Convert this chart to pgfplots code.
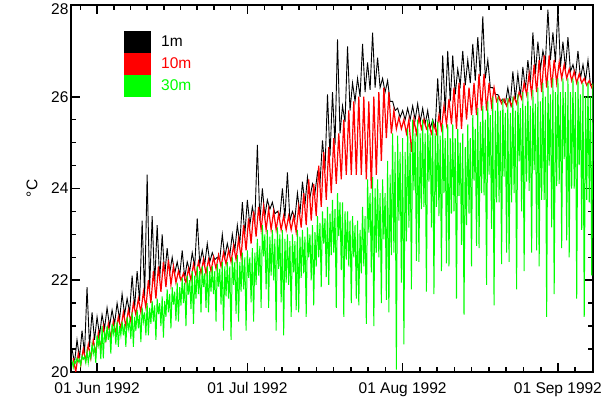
\documentclass[border=0pt]{standalone}
\usepackage{pgfplots}
\usepackage{pgfplotstable}
\pgfplotsset{compat=1.18}
\usepackage{fontspec}
\setmainfont{Liberation Sans}
\definecolor{igreen}{RGB}{0,255,0}
\definecolor{ired}{RGB}{255,0,0}

% 1m: daily peak / trough, sampled every 0.5 day from day -5 (day 0 = 01 Jun 1992)
\pgfplotstableread[header=false,row sep=\\]{
20.5\\20.2\\20.7\\20.3\\20.9\\20.4\\21.85\\20.55\\21.3\\20.7\\
21.2\\20.8\\21.25\\20.95\\21.4\\21.0\\21.35\\21.05\\21.5\\21.15\\
21.7\\21.25\\21.6\\21.3\\22.1\\21.4\\22.2\\21.55\\23.3\\21.65\\
24.3\\21.8\\23.4\\21.9\\23.2\\22.0\\23.0\\22.1\\22.7\\22.15\\
22.5\\22.15\\22.4\\22.1\\22.65\\22.05\\22.4\\22.2\\22.6\\22.3\\
23.35\\22.35\\22.65\\22.35\\22.8\\22.4\\22.6\\22.45\\22.5\\22.45\\
23.0\\22.5\\22.8\\22.55\\23.0\\22.65\\23.2\\22.8\\23.7\\23.0\\
23.75\\23.2\\23.6\\23.3\\24.95\\23.3\\24.0\\23.4\\23.75\\23.55\\
23.7\\23.45\\23.5\\23.4\\24.0\\23.35\\24.35\\23.3\\23.5\\23.35\\
23.9\\23.45\\24.15\\23.65\\24.25\\23.8\\24.1\\23.9\\24.35\\24.1\\
25.05\\24.4\\26.05\\24.7\\26.1\\24.95\\27.25\\25.2\\25.8\\25.45\\
27.1\\25.7\\26.3\\25.9\\26.4\\26.0\\27.15\\26.1\\26.75\\26.15\\
27.4\\26.2\\26.85\\26.2\\26.4\\26.1\\26.35\\25.9\\25.9\\25.7\\
25.75\\25.55\\25.7\\25.5\\25.75\\25.5\\25.8\\25.5\\25.85\\25.45\\
25.75\\25.4\\25.7\\25.3\\25.5\\25.3\\26.4\\25.45\\26.9\\25.65\\
27.0\\25.9\\26.9\\26.05\\26.6\\26.25\\27.0\\26.25\\26.8\\26.3\\
27.15\\26.35\\27.3\\26.45\\27.75\\26.4\\26.8\\26.2\\26.2\\26.05\\
26.05\\25.9\\25.95\\25.85\\26.2\\25.85\\26.55\\25.95\\26.5\\26.0\\
26.65\\26.15\\26.8\\26.3\\27.4\\26.5\\27.2\\26.6\\27.0\\26.75\\
27.9\\26.8\\27.4\\26.75\\27.95\\26.65\\27.2\\26.6\\27.3\\26.55\\
26.7\\26.45\\27.0\\26.4\\26.7\\26.35\\26.8\\26.25\\26.3\\26.2\\
}\tblack

% 10m: high / low, every 0.5 day
\pgfplotstableread[header=false,row sep=\\]{
20.3\\20.0\\20.4\\20.15\\20.5\\20.25\\20.6\\20.3\\20.7\\20.4\\
20.85\\20.5\\21.0\\20.7\\21.05\\20.75\\21.1\\20.85\\21.2\\20.95\\
21.3\\21.0\\21.35\\21.1\\21.5\\21.25\\21.6\\21.3\\21.75\\21.4\\
22.0\\21.5\\22.2\\21.6\\22.3\\21.75\\22.4\\21.85\\22.45\\21.9\\
22.3\\21.95\\22.2\\22.0\\22.15\\21.95\\22.25\\22.0\\22.35\\22.1\\
22.4\\22.15\\22.45\\22.15\\22.45\\22.2\\22.5\\22.25\\22.55\\22.3\\
22.6\\22.35\\22.65\\22.4\\22.75\\22.45\\22.9\\22.5\\23.2\\22.65\\
23.35\\22.8\\23.5\\22.95\\23.6\\23.1\\23.6\\23.1\\23.55\\23.1\\
23.5\\23.1\\23.45\\23.1\\23.4\\23.1\\23.4\\23.1\\23.4\\23.05\\
23.6\\23.15\\23.9\\23.2\\24.2\\23.3\\24.1\\23.4\\24.5\\23.6\\
24.8\\23.75\\24.9\\23.9\\25.1\\24.1\\25.2\\24.2\\25.5\\24.3\\
25.7\\24.3\\25.9\\24.3\\26.0\\24.3\\26.0\\24.2\\25.9\\24.0\\
26.0\\24.3\\26.1\\24.6\\26.2\\25.1\\26.1\\25.2\\25.7\\25.3\\
25.55\\25.3\\25.5\\25.2\\25.5\\24.8\\25.5\\25.2\\25.55\\25.3\\
25.5\\25.3\\25.4\\25.2\\25.4\\25.2\\25.6\\25.3\\25.8\\25.4\\
25.95\\25.4\\26.2\\25.3\\26.3\\25.3\\26.3\\25.5\\26.2\\25.6\\
26.3\\25.6\\26.5\\25.7\\26.5\\25.7\\26.3\\25.8\\26.2\\25.9\\
26.0\\25.85\\25.95\\25.8\\25.95\\25.8\\26.0\\25.85\\26.1\\25.95\\
26.3\\26.05\\26.5\\26.05\\26.7\\26.1\\26.8\\26.1\\26.9\\26.2\\
26.9\\26.2\\26.8\\26.3\\26.75\\26.4\\26.7\\26.4\\26.6\\26.35\\
26.55\\26.3\\26.5\\26.3\\26.4\\26.25\\26.35\\26.2\\26.3\\26.15\\
}\tred

% 30m: four samples a day
\pgfplotstableread[header=false,row sep=\\]{
20.25\\20.1\\20.24\\20.19\\ 20.3\\20.22\\20.28\\20.15\\ 20.35\\20.28\\20.33\\20.2\\
20.45\\20.2\\20.42\\20.3\\ 20.6\\20.4\\20.55\\20.2\\ 20.8\\20.58\\20.75\\20.28\\
21.0\\20.3\\20.9\\20.65\\ 21.0\\20.7\\20.95\\20.4\\ 21.05\\20.83\\21.0\\20.6\\
21.1\\20.55\\21.0\\20.8\\ 21.1\\20.8\\21.05\\20.55\\ 21.2\\20.94\\21.1\\20.72\\
21.3\\20.55\\21.2\\20.9\\ 21.35\\20.95\\21.25\\20.65\\ 21.4\\21.1\\21.3\\20.8\\
21.5\\20.8\\21.4\\21.05\\ 21.55\\21.1\\21.45\\20.7\\ 21.6\\21.26\\21.5\\21.0\\
21.65\\20.75\\21.55\\21.2\\ 21.8\\21.3\\21.7\\20.95\\ 21.85\\21.47\\21.75\\21.12\\
21.95\\21.1\\21.85\\21.45\\ 22.05\\21.5\\21.95\\21.0\\ 22.1\\21.69\\22.0\\21.37\\
22.2\\21.05\\22.1\\21.6\\ 22.3\\21.7\\22.2\\21.3\\ 22.3\\21.85\\22.15\\21.4\\
22.3\\21.3\\22.2\\21.75\\ 22.3\\21.7\\22.2\\21.1\\ 22.35\\21.86\\22.25\\21.47\\
22.4\\20.9\\22.3\\21.65\\ 22.4\\21.6\\22.3\\20.7\\ 22.5\\21.9\\22.4\\21.27\\
22.55\\21.1\\22.4\\21.75\\ 22.6\\21.8\\22.5\\20.9\\ 22.65\\22.05\\22.5\\21.52\\
22.7\\21.1\\22.6\\21.9\\ 22.9\\22.1\\22.75\\21.4\\ 23.2\\22.52\\23.0\\21.8\\
23.1\\21.4\\22.95\\22.1\\ 23.1\\22.0\\22.9\\20.9\\ 23.15\\22.25\\23.0\\21.52\\
23.1\\20.8\\22.9\\21.95\\ 23.0\\21.9\\22.85\\21.2\\ 23.0\\22.17\\22.85\\21.35\\
23.1\\21.3\\22.95\\22.05\\ 23.1\\22.15\\22.95\\21.2\\ 23.15\\22.5\\23.0\\22.0\\
23.2\\21.45\\23.05\\22.3\\ 23.4\\22.5\\23.25\\21.85\\ 23.5\\22.8\\23.35\\22.07\\
23.6\\21.9\\23.45\\22.55\\ 23.75\\22.6\\23.55\\21.4\\ 23.9\\22.96\\23.7\\22.22\\
23.7\\21.2\\23.5\\22.45\\ 23.5\\22.3\\23.3\\21.5\\ 23.4\\22.5\\23.2\\21.6\\
23.3\\21.45\\23.1\\22.15\\ 23.6\\22.3\\23.4\\21.05\\ 24.2\\23.04\\23.9\\22.17\\
24.25\\21.0\\24.0\\22.6\\ 24.2\\22.5\\23.9\\21.5\\ 24.2\\22.89\\23.9\\21.57\\
24.6\\21.3\\24.3\\22.55\\ 25.2\\22.6\\24.8\\20.05\\ 25.15\\23.3\\24.8\\21.95\\
25.1\\20.6\\24.8\\22.85\\ 25.3\\23.15\\25.0\\21.8\\ 25.5\\23.96\\25.2\\22.42\\
25.5\\22.4\\25.2\\23.55\\ 25.5\\23.6\\25.2\\21.75\\ 25.5\\24.15\\25.2\\23.15\\
25.5\\21.7\\25.2\\23.6\\ 25.45\\23.4\\25.15\\22.2\\ 25.4\\23.9\\25.1\\22.37\\
25.4\\22.3\\25.1\\23.45\\ 25.4\\23.5\\25.1\\21.6\\ 25.3\\23.84\\25.0\\22.77\\
25.2\\21.25\\24.9\\23.2\\ 25.4\\23.45\\25.1\\22.3\\ 25.6\\24.17\\25.3\\22.75\\
25.75\\22.7\\25.45\\23.9\\ 25.8\\23.85\\25.5\\21.9\\ 25.9\\24.3\\25.6\\23.12\\
26.0\\21.45\\25.7\\23.7\\ 26.0\\23.7\\25.7\\22.35\\ 25.95\\24.26\\25.65\\22.6\\
25.97\\22.4\\25.65\\23.7\\ 26.0\\23.9\\25.7\\21.8\\ 26.05\\24.59\\25.75\\23.5\\
26.1\\22.2\\25.8\\24.15\\ 26.1\\23.95\\25.8\\22.6\\ 26.15\\24.4\\25.85\\22.65\\
26.2\\22.3\\25.9\\23.75\\ 26.3\\23.75\\26.0\\21.2\\ 26.35\\24.5\\26.05\\23.15\\
26.4\\21.7\\26.1\\24.05\\ 26.4\\24.1\\26.1\\22.7\\ 26.4\\24.64\\26.1\\22.87\\
26.4\\22.5\\26.1\\24.0\\ 26.4\\24.0\\26.1\\21.6\\ 26.35\\24.51\\26.05\\23.1\\
26.3\\21.2\\26.0\\23.75\\ 26.3\\23.7\\26.0\\22.1\\ 26.3\\24.35\\26.0\\22.4\\
}\tgreen

\begin{document}
\begin{tikzpicture}
\useasboundingbox (0,0) rectangle (602bp,397bp);
\begin{axis}[
  at={(71bp,25bp)}, anchor=south west,
  scale only axis, width=522bp, height=367bp,
  xmin=-5.2, xmax=99, ymin=20, ymax=28,
  xtick={0,30,61,92},
  xticklabels={01 Jun 1992,01 Jul 1992,01 Aug 1992,01 Sep 1992},
  minor xtick={-3.33,3.33,6.67,10,13.33,16.67,20,23.33,26.67,33.44,36.89,40.33,43.78,47.22,50.67,54.11,57.56,64.44,67.89,71.33,74.78,78.22,81.67,85.11,88.56,95.44,98.89},
  ytick={20,22,24,26},
  extra y ticks={28},
  extra y tick style={yticklabel style={yshift=-4bp}},
  minor y tick num=3,
  major tick length=9bp, minor tick length=5bp,
  tick align=inside,
  axis line style={line width=2bp},
  every tick/.style={black, line width=1.6bp},
  tick label style={font=\fontsize{15.5bp}{18bp}\selectfont},
  /pgf/number format/assume math mode=true,
  xticklabel style={yshift=-7bp},
  yticklabel style={xshift=1bp},
  ylabel={°C},
  every axis y label/.style={at={(axis description cs:0,0.5)}, xshift=-39bp, rotate=90, anchor=center, font=\fontsize{15.5bp}{18bp}\selectfont},
  legend style={at={(0.1015,0.929)}, anchor=north west, draw=none, fill=none, inner sep=0pt, outer sep=0pt, row sep=0pt,
    font=\fontsize{15.5bp}{18bp}\selectfont, nodes={inner sep=0pt, anchor=west}},
  legend cell align=left,
  legend image code/.code={\fill[#1] (0bp,-10.5bp) rectangle (26bp,10.5bp); \path (36bp,0bp);},
]
\addplot[color=black, line width=0.9bp] table[x expr={-5+0.5*\coordindex}, y index=0] {\tblack};
\addplot[color=ired, line width=1.2bp] table[x expr={-4.75+0.5*\coordindex}, y index=0] {\tred};
\addplot[color=igreen, line width=1bp] table[x expr={-5+0.25*\coordindex}, y index=0] {\tgreen};
\legend{1m,\textcolor{ired}{10m},\textcolor{igreen}{30m}}
\end{axis}
\end{tikzpicture}
\end{document}
